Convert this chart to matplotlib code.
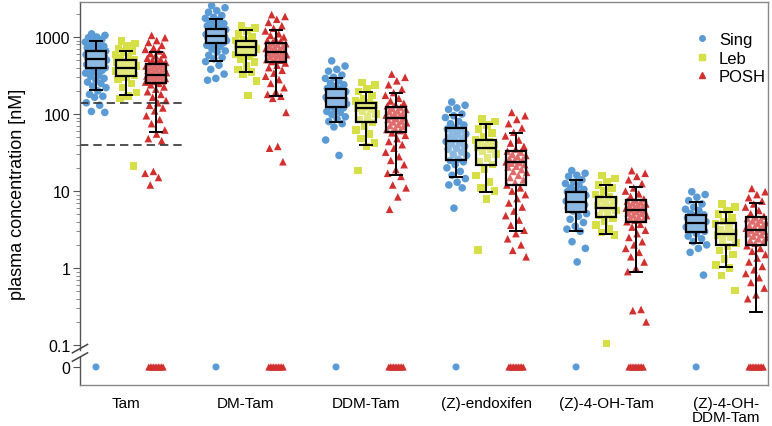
import numpy as np
import matplotlib.pyplot as plt
from matplotlib.lines import Line2D
from matplotlib.ticker import FixedLocator, NullFormatter

plt.rcParams['font.family'] = ['Liberation Sans', 'DejaVu Sans']

groups = ['Tam', 'DM-Tam', 'DDM-Tam', '(Z)-endoxifen', '(Z)-4-OH-Tam', '(Z)-4-OH-\nDDM-Tam']
series = ['Sing', 'Leb', 'POSH']
colors = {'Sing': '#5b9bd5', 'Leb': '#d6df45', 'POSH': '#d22f2f'}
markers = {'Sing': 'o', 'Leb': 's', 'POSH': '^'}

# box stats per group: (whislo, q1, med, q3, whishi) in nM
sing_box = [(205, 396, 518, 652, 895), (483, 828, 1020, 1270, 1713), (78, 124, 160, 211, 291),
            (15, 25.3, 44, 66, 97), (3.05, 5.4, 7.3, 9.8, 14), (2.1, 2.9, 3.84, 4.9, 7.3)]
leb_box = [(177, 314, 392, 502, 663), (354, 584, 735, 896, 1233), (39.5, 78, 119, 139, 195),
           (9.8, 21.8, 36, 46, 74), (2.8, 4.6, 6.0, 8.3, 12), (1.02, 1.99, 2.77, 3.8, 5.3)]
posh_box = [(58, 253, 320, 441, 632), (173, 478, 632, 828, 1245), (16.1, 58, 89, 124, 188),
            (3.05, 12, 23.6, 33, 57), (0.9, 4.0, 5.7, 7.6, 11.2), (0.27, 1.99, 3.1, 4.55, 6.9)]

# individual patient values (0 = below limit of quantification)
sing_pts = [
    [1100, 1050, 1000, 980, 930, 890, 860, 840, 790, 760, 750, 720, 700, 690, 660, 640, 630, 620,
     600, 590, 580, 560, 550, 540, 520, 515, 510, 500, 490, 480, 470, 460, 440, 430, 420, 400, 390,
     380, 370, 355, 340, 320, 310, 290, 280, 260, 250, 230, 220, 200, 180, 170, 165, 140, 130,
     108, 105, 0],
    [2550, 2400, 2200, 2100, 1900, 1800, 1750, 1650, 1600, 1500, 1450, 1400, 1320, 1300, 1250,
     1200, 1170, 1150, 1100, 1080, 1060, 1030, 1010, 1000, 970, 950, 940, 900, 880, 870, 840, 800,
     780, 760, 700, 660, 640, 580, 540, 520, 480, 430, 380, 330, 290, 275, 0],
    [490, 420, 380, 360, 320, 300, 290, 270, 250, 240, 230, 215, 210, 205, 195, 190, 185, 175, 170,
     165, 162, 160, 155, 152, 150, 142, 138, 135, 128, 125, 120, 112, 108, 105, 98, 92, 86, 80,
     75, 68, 46, 29, 0],
    [143, 130, 120, 115, 100, 95, 90, 80, 75, 72, 66, 64, 62, 58, 55, 54, 50, 48, 47, 44, 42, 41,
     38, 36, 35, 32, 30, 29, 26, 25, 24, 22, 20, 18, 16, 14.5, 13, 12, 11, 6.0, 0],
    [18.4, 17, 16, 15.5, 14, 13, 12.5, 12, 11, 10.5, 10.3, 9.8, 9.5, 9.3, 8.8, 8.5, 8.3, 7.8, 7.6,
     7.4, 7.0, 6.8, 6.6, 6.2, 6.0, 5.8, 5.5, 5.1, 4.7, 4.3, 3.9, 3.5, 3.2, 3.0, 2.2, 1.8, 1.2, 0],
    [9.8, 9.0, 8.3, 7.5, 6.8, 6.2, 5.8, 5.6, 5.1, 4.9, 4.8, 4.5, 4.3, 4.2, 4.0, 3.9, 3.8, 3.6, 3.5,
     3.4, 3.2, 3.1, 3.0, 2.8, 2.6, 2.4, 2.2, 2.0, 1.8, 1.6, 0.81, 0],
]
leb_pts = [
    [880, 820, 760, 700, 660, 640, 590, 560, 540, 500, 480, 470, 450, 430, 420, 410, 395, 385, 370,
     360, 350, 330, 315, 300, 280, 250, 220, 190, 170, 160, 21],
    [1400, 1300, 1200, 1100, 1000, 930, 900, 880, 840, 820, 800, 770, 740, 720, 700, 690, 650, 620,
     600, 590, 560, 520, 470, 420, 380, 350, 330, 270, 175],
    [258, 240, 215, 195, 175, 160, 148, 140, 138, 130, 124, 119, 114, 108, 100, 92, 85, 78, 70, 62,
     55, 48, 42, 38, 18.4],
    [86, 80, 72, 64, 57, 50, 46, 44, 43, 40, 38, 37, 35, 33, 30, 27, 24, 22, 19, 16, 13, 11, 10,
     7.9, 1.73],
    [16, 14.5, 13, 12, 11, 10, 9, 8.3, 7.9, 7.6, 7.0, 6.5, 6.2, 6.0, 5.6, 5.2, 4.8, 4.4, 4.0, 3.6,
     3.2, 2.9, 2.7, 0.105],
    [6.8, 6.2, 5.6, 5.0, 4.5, 4.0, 3.7, 3.4, 3.1, 2.9, 2.8, 2.7, 2.5, 2.3, 2.1, 1.9, 1.7, 1.5, 1.3,
     1.1, 1.0, 0.8, 0.51],
]
posh_pts = [
    [1050, 980, 900, 850, 780, 720, 690, 660, 610, 590, 570, 530, 510, 500, 470, 460, 450, 435, 430,
     420, 410, 400, 390, 385, 370, 360, 355, 345, 340, 330, 325, 320, 312, 305, 300, 290, 285, 280,
     270, 265, 260, 250, 240, 225, 210, 195, 180, 165, 150, 140, 130, 120, 110, 95, 85, 75, 62, 55,
     48, 45, 18, 17, 15, 12, 0, 0, 0, 0, 0, 0, 0, 0, 0, 0],
    [1950, 1850, 1700, 1550, 1400, 1300, 1200, 1100, 1050, 1000, 940, 900, 880, 840, 820, 800, 770,
     750, 740, 710, 690, 680, 650, 640, 630, 610, 600, 590, 570, 560, 550, 520, 510, 500, 480, 460,
     430, 400, 370, 340, 310, 280, 250, 220, 195, 180, 170, 160, 105, 38, 36, 24,
     0, 0, 0, 0, 0, 0, 0, 0, 0, 0],
    [330, 300, 270, 240, 210, 190, 175, 160, 148, 138, 132, 128, 122, 118, 115, 110, 108, 102, 100,
     97, 95, 93, 89, 87, 85, 81, 79, 77, 73, 71, 69, 65, 63, 61, 57, 53, 48, 44, 40, 36, 32, 28, 25,
     22, 19, 17, 15.5, 12, 11, 8.4, 5.8, 0, 0, 0, 0, 0, 0, 0, 0, 0, 0],
    [105, 95, 85, 75, 66, 58, 52, 46, 42, 38, 35, 33, 32, 30, 29, 28, 26.5, 25.5, 25, 24, 23.5, 23,
     22, 21, 20.5, 19, 18, 17.5, 16, 15, 14, 13, 12, 11, 10, 9, 8, 7, 6.2, 5.5, 4.8, 4.2, 3.6, 3.1,
     2.8, 2.4, 2.0, 1.7, 1.4, 0, 0, 0, 0, 0, 0, 0, 0, 0, 0],
    [18.4, 17, 15.5, 14, 12.5, 11, 10, 9.2, 8.5, 7.9, 7.6, 7.4, 7.2, 7.0, 6.8, 6.6, 6.4, 6.3, 6.1,
     6.0, 5.8, 5.7, 5.5, 5.4, 5.2, 5.1, 4.9, 4.8, 4.6, 4.5, 4.3, 4.2, 4.0, 3.7, 3.4, 3.1, 2.8, 2.5,
     2.2, 2.0, 1.8, 1.6, 1.4, 1.2, 1.0, 0.9, 0.29, 0.28, 0.2, 0, 0, 0, 0, 0, 0, 0, 0, 0, 0],
    [10.8, 9.8, 9.0, 8.2, 7.4, 6.8, 6.2, 5.6, 5.1, 4.7, 4.5, 4.4, 4.2, 4.1, 3.9, 3.8, 3.6, 3.5,
     3.4, 3.3, 3.2, 3.1, 3.0, 2.9, 2.8, 2.7, 2.6, 2.5, 2.4, 2.3, 2.2, 2.1, 1.95, 1.8, 1.65, 1.5,
     1.35, 1.2, 1.05, 0.95, 0.85, 0.75, 0.65, 0.55, 0.45, 0.4, 0, 0, 0, 0, 0, 0, 0, 0, 0, 0],
]

tam_thresholds = [139, 40]  # dashed reference lines in the Tam group

ZERO_POS = 0.052  # where the "0" row sits below the axis break
offsets = {'Sing': -0.25, 'Leb': 0.0, 'POSH': 0.25}
boxes = {'Sing': sing_box, 'Leb': leb_box, 'POSH': posh_box}
points = {'Sing': sing_pts, 'Leb': leb_pts, 'POSH': posh_pts}

fig = plt.figure(figsize=(7.72, 4.27), dpi=100)
ax = fig.add_axes([0.1036, 0.096, 0.8914, 0.897])
ax.set_yscale('log')

for gi in range(len(groups)):
    for s in series:
        x0 = gi + offsets[s]
        vals = np.array(points[s][gi], dtype=float)
        nz = vals[vals > 0]
        n = len(nz)
        jit = ((np.arange(n) * 0.618034 + 0.3) % 1 - 0.5) * 0.18
        ax.scatter(x0 + jit, nz, s=30, marker=markers[s], color=colors[s],
                   edgecolors='none', zorder=1)
        nzero = int((vals == 0).sum())
        if nzero:
            zj = np.linspace(-0.06, 0.06, nzero) if nzero > 1 else np.zeros(1)
            ax.scatter(x0 + zj, np.full(nzero, ZERO_POS), s=26, marker=markers[s],
                       color=colors[s], edgecolors='none', zorder=1, clip_on=False)

        lo, q1, med, q3, hi = boxes[s][gi]
        st = [dict(whislo=lo, q1=q1, med=med, q3=q3, whishi=hi, fliers=[])]
        ax.bxp(st, positions=[x0], widths=0.17, capwidths=0.1, patch_artist=True,
               showfliers=False, manage_ticks=False, zorder=3,
               boxprops=dict(facecolor=(1, 1, 1, 0.3), edgecolor='black', linewidth=1.6),
               medianprops=dict(color='black', linewidth=1.6),
               whiskerprops=dict(color='black', linewidth=1.4),
               capprops=dict(color='black', linewidth=1.4))

xmin, xmax = -0.383, 5.35
for t in tam_thresholds:
    ax.plot([xmin, 0.49], [t, t], color='#333333', lw=1.2, linestyle=(0, (5, 3)), zorder=2)

ax.set_xlim(xmin, xmax)
ax.set_ylim(0.0303, 2850)

ax.set_xticks(range(len(groups)))
ax.set_xticklabels(groups, fontsize=11, linespacing=1.0)
ax.tick_params(axis='x', length=0, pad=8)

ax.yaxis.set_major_locator(FixedLocator([ZERO_POS, 0.1, 1, 10, 100, 1000]))
ax.set_yticklabels(['0', '0.1', '1', '10', '100', '1000'])
minor = [m * 10.0 ** e for e in range(-1, 4) for m in range(2, 10) if m * 10.0 ** e < 2850]
ax.yaxis.set_minor_locator(FixedLocator(minor))
ax.yaxis.set_minor_formatter(NullFormatter())
ax.tick_params(axis='y', which='major', direction='out', length=5, pad=2, labelsize=11.5,
               color='#555555')
ax.tick_params(axis='y', which='minor', direction='out', length=3, color='#777777')
ax.set_ylabel('plasma concentration [nM]', fontsize=13, labelpad=6)

for side in ['top', 'right', 'bottom']:
    ax.spines[side].set_color('#888888')
    ax.spines[side].set_linewidth(1.0)

# left spine with a break between 0.1 and 0
ax.spines['left'].set_visible(False)
ax.plot([0, 0], [0, 0.072], transform=ax.transAxes, color='#555555', lw=1.0, clip_on=False)
ax.plot([0, 0], [0.092, 1], transform=ax.transAxes, color='#555555', lw=1.0, clip_on=False)
for dy in (0.0, 0.022):
    ax.plot([-0.011, 0.011], [0.062 + dy, 0.084 + dy], transform=ax.transAxes,
            color='#444444', lw=1.1, clip_on=False)

handles = [Line2D([], [], linestyle='none', marker=markers[s], color=colors[s], markersize=4)
           for s in series]
ax.legend(handles, series, loc='upper left', bbox_to_anchor=(0.868, 0.96), frameon=False,
          fontsize=12, handletextpad=0.4, labelspacing=0.2, handlelength=1.2)

fig.savefig('out.png', dpi=100)
